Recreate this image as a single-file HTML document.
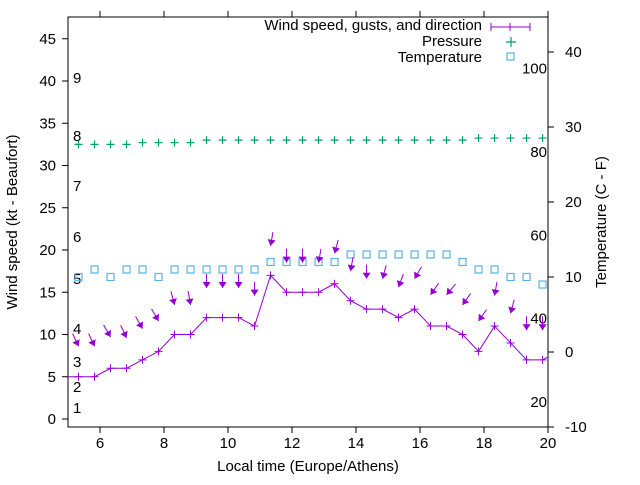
<!DOCTYPE html>
<html><head><meta charset="utf-8"><style>
body{margin:0;background:#fff}
text{font-family:"Liberation Sans",sans-serif;font-size:15px;fill:#000}
</style></head><body>
<svg id="c" width="640" height="480" xmlns="http://www.w3.org/2000/svg">
<defs><clipPath id="clip"><rect x="68" y="17" width="480" height="410"/></clipPath></defs>
<g id="axes"></g>
<g id="plot" clip-path="url(#clip)"></g>
<g id="legend">
<text x="482" y="30" text-anchor="end">Wind speed, gusts, and direction</text>
<path d="M491 27H530M491 23V31M530 23V31M510 23V31" stroke="#9400d3" stroke-width="1" fill="none"/>
<text x="482" y="46" text-anchor="end">Pressure</text>
<path d="M506 42H516M511 37V47" stroke="#009e73" stroke-width="1.2"/>
<text x="482" y="62" text-anchor="end">Temperature</text>
<rect x="507" y="53" width="7" height="7" fill="none" stroke="#56b4e9" stroke-width="1.2"/>
</g>
<text transform="translate(17,222) rotate(-90)" text-anchor="middle">Wind speed (kt - Beaufort)</text>
<text transform="translate(606,222) rotate(-90)" text-anchor="middle">Temperature (C - F)</text>
<text x="308" y="471" text-anchor="middle">Local time (Europe/Athens)</text>
</svg>
<script>
const times=[4.83,5.33,5.83,6.33,6.83,7.33,7.83,8.33,8.83,9.33,9.83,10.33,10.83,11.33,11.83,12.33,12.83,13.33,13.83,14.33,14.83,15.33,15.83,16.33,16.83,17.33,17.83,18.33,18.83,19.33,19.83,20.33];
const windSpeed=[5,5,5,6,6,7,8,10,10,12,12,12,11,17,15,15,15,16,14,13,13,12,13,11,11,10,8,11,9,7,7,8];
const gusts=[null,8.6,8.6,9.7,9.6,10.7,11.6,13.5,13.5,15.5,15.5,15.5,14.6,20.5,18.5,18.5,18.5,19.6,17.5,16.6,16.6,15.6,16.6,14.7,14.7,13.5,11.6,14.6,12.5,10.5,10.5,null];
const windDir=[null,335,335,330,335,330,330,345,350,0,0,0,0,10,0,0,10,15,10,0,15,20,30,35,40,35,35,10,15,0,0,null];
const pressure=[null,32.5,32.5,32.5,32.5,32.7,32.7,32.7,32.7,33,33,33,33,33,33,33,33,33,33,33,33,33,33,33,33,33,33.25,33.25,33.25,33.25,33.25,null];
const tempC=[null,10,11,10,11,11,10,11,11,11,11,11,11,12,12,12,12,12,13,13,13,13,13,13,13,12,11,11,10,10,9,null];
const xTicks=[6,8,10,12,14,16,18,20];
const yTicks=[0,5,10,15,20,25,30,35,40,45];
const y2Ticks=[-10,0,10,20,30,40];
const fLabels=[100,80,60,40,20];
const bLabels=[[1,408],[2,387],[3,362],[4,329],[5,279],[6,237],[7,186],[8,136],[9,78]];
const X=t=>68+(t-5)*32;
const Y=v=>419-v*8.45;
const Y2=c=>352-c*7.5;
const NS='http://www.w3.org/2000/svg';
function mk(tag,attrs,parent){const e=document.createElementNS(NS,tag);for(const k in attrs)e.setAttribute(k,attrs[k]);parent.appendChild(e);return e;}
const ax=document.getElementById('axes'),pl=document.getElementById('plot');
let fr=mk('rect',{x:68,y:17,width:480,height:410,fill:'none',stroke:'#000','stroke-width':1},ax);


xTicks.forEach(t=>{
 let l=mk('path',{d:`M${X(t)} 427v6M${X(t)} 17v-6`,stroke:'#000'},ax);
 
 
 let tx=mk('text',{x:X(t),y:448,'text-anchor':'middle'},ax);tx.textContent=t;
 
 
});
yTicks.forEach(v=>{
 let l=mk('path',{d:`M68 ${Y(v)}h-6`,stroke:'#000'},ax);
 
 
 let tx=mk('text',{x:56,y:Y(v)+5,'text-anchor':'end'},ax);tx.textContent=v;
 
 
});
y2Ticks.forEach(v=>{
 let l=mk('path',{d:`M548 ${Y2(v)}h6`,stroke:'#000'},ax);
 
 
 let tx=mk('text',{x:565,y:Y2(v)+5,'text-anchor':'start'},ax);tx.textContent=v;
 
 
});
fLabels.forEach(f=>{
 let tx=mk('text',{x:547,y:Y2((f-32)*5/9)+5,'text-anchor':'end'},ax);tx.textContent=f;
 
 
});
bLabels.forEach(b=>{
 let tx=mk('text',{x:73,y:b[1]+5},ax);tx.textContent=b[0];
 
 
});
// pressure
times.forEach((t,i)=>{if(pressure[i]==null)return;const x=X(t),y=Y(pressure[i]);
 let p=mk('path',{d:`M${x-4} ${y}h8M${x} ${y-4}v8`,stroke:'#009e73','stroke-width':1.2},pl);
 
 
});
// temperature
times.forEach((t,i)=>{if(tempC[i]==null)return;const x=X(t),y=Y2(tempC[i]);
 let r=mk('rect',{x:x-3.5,y:y-3.5,width:7,height:7,fill:'none',stroke:'#56b4e9','stroke-width':1.2},pl);
 
 
});
// wind line
let d=times.map((t,i)=>(i?'L':'M')+X(t)+' '+Y(windSpeed[i])).join('');
let wl=mk('path',{d:d,fill:'none',stroke:'#9400d3','stroke-width':1},pl);


times.forEach((t,i)=>{const x=X(t),y=Y(windSpeed[i]);
 let p=mk('path',{d:`M${x-4} ${y}h8M${x} ${y-4}v8`,stroke:'#9400d3','stroke-width':1},pl);
 
 
});
// gust arrows
times.forEach((t,i)=>{if(gusts[i]==null)return;const hx=X(t),hy=Y(gusts[i]);
 const a=windDir[i]*Math.PI/180;const L=14;
 const tx=hx-Math.sin(a+Math.PI)*L, ty=hy+Math.cos(a+Math.PI)*L;
 const ux=(hx-tx)/L,uy=(hy-ty)/L;const bx=hx-ux*6,by=hy-uy*6;
 let g=mk('g',{},pl);
 
 
 mk('line',{x1:tx,y1:ty,x2:hx,y2:hy,stroke:'#9400d3','stroke-width':1},g);
 mk('polygon',{points:`${hx},${hy} ${bx-uy*4},${by+ux*4} ${bx+uy*4},${by-ux*4}`,fill:'#9400d3'},g);
});
</script>
</body></html>
